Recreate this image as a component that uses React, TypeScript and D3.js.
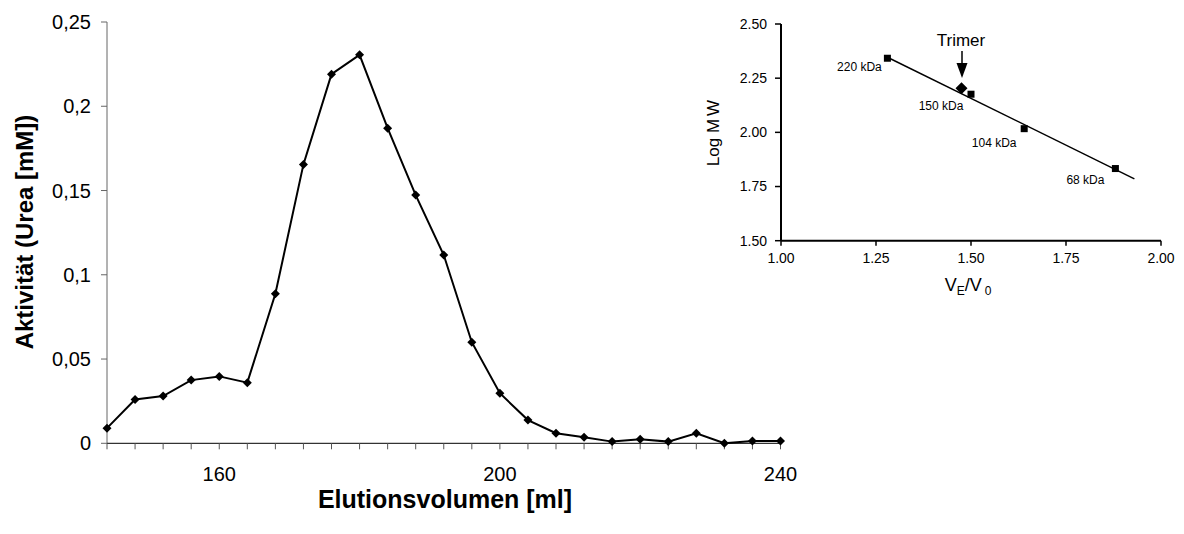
import React from "react";
import * as d3 from "d3";

// Main chart data
const volumes = [144, 148, 152, 156, 160, 164, 168, 172, 176, 180, 184, 188, 192, 196, 200, 204, 208, 212, 216, 220, 224, 228, 232, 236, 240];
const activity = [0.009, 0.026, 0.028, 0.0375, 0.0397, 0.036, 0.0887, 0.1655, 0.219, 0.2305, 0.187, 0.1473, 0.1117, 0.060, 0.0297, 0.0138, 0.006, 0.0036, 0.001, 0.0024, 0.001, 0.006, 0.0, 0.0014, 0.0014];
const mainYTicks = [0, 0.05, 0.1, 0.15, 0.2, 0.25];
const mainYTickLabels = ["0", "0,05", "0,1", "0,15", "0,2", "0,25"];
const mainXTicks = d3.range(144, 241, 4);
const mainXLabels = [160, 200, 240];

// Inset data
const standardsVeV0 = [1.28, 1.50, 1.64, 1.88];
const standardsLogMW = [2.342, 2.176, 2.017, 1.833];
const standardsNames = ["220 kDa", "150 kDa", "104 kDa", "68 kDa"];
const trimerVeV0 = [1.475];
const trimerLogMW = [2.203];
const trendRange = [1.28, 1.93];
const insetXTicks = [1.0, 1.25, 1.5, 1.75, 2.0];
const insetYTicks = [1.5, 1.75, 2.0, 2.25, 2.5];

const FONT = "'Liberation Sans', Arial, Helvetica, sans-serif";

export default function App() {
  // main scales
  const x = d3.scaleLinear().domain([144, 240]).range([107, 780.5]);
  const y = d3.scaleLinear().domain([0, 0.25]).range([443.3, 22]);
  const line = d3
    .line<number>()
    .x((_, i) => x(volumes[i]))
    .y((d) => y(d));

  // inset scales
  const ix = d3.scaleLinear().domain([1, 2]).range([781, 1161]);
  const iy = d3.scaleLinear().domain([1.5, 2.5]).range([240.7, 24]);

  // regression of standards
  const mx = d3.mean(standardsVeV0)!;
  const my = d3.mean(standardsLogMW)!;
  let sxy = 0, sxx = 0;
  standardsVeV0.forEach((v, i) => {
    sxy += (v - mx) * (standardsLogMW[i] - my);
    sxx += (v - mx) * (v - mx);
  });
  const slope = sxy / sxx;
  const icpt = my - slope * mx;

  const labelOffsets = [
    [-28, 13],
    [-30, 16],
    [-30, 18],
    [-30, 15],
  ];

  const diamond = (cx: number, cy: number, r: number) =>
    `M${cx},${cy - r}L${cx + r},${cy}L${cx},${cy + r}L${cx - r},${cy}Z`;

  return (
    <svg
      width={1184}
      height={534}
      style={{ position: "absolute", left: 0, top: 0, background: "#fff" }}
      fontFamily={FONT}
    >
      {/* Main chart axes */}
      <line x1={x(144)} x2={x(144)} y1={y(0.25)} y2={y(0)} stroke="#666" strokeWidth={1} />
      <line x1={x(144)} x2={x(240)} y1={y(0)} y2={y(0)} stroke="#000" strokeWidth={1} />
      {mainYTicks.map((t, i) => (
        <g key={"yt" + i}>
          <line x1={x(144) - 6} x2={x(144)} y1={y(t)} y2={y(t)} stroke="#666" />
          <text x={91} y={y(t)} dy="0.35em" textAnchor="end" fontSize={20} fill="#000">
            {mainYTickLabels[i]}
          </text>
        </g>
      ))}
      {mainXTicks.map((t) => (
        <line key={"xt" + t} x1={x(t)} x2={x(t)} y1={y(0)} y2={y(0) + 6} stroke="#555" />
      ))}
      {mainXLabels.map((t) => (
        <text key={"xl" + t} x={x(t)} y={481} textAnchor="middle" fontSize={20} fill="#000">
          {t}
        </text>
      ))}
      <text x={445} y={508} textAnchor="middle" fontSize={25} fontWeight="bold" fill="#000">
        Elutionsvolumen [ml]
      </text>
      <text
        transform={`translate(33,232) rotate(-90)`}
        textAnchor="middle"
        fontSize={24}
        fontWeight="bold"
        fill="#000"
      >
        Aktivität (Urea [mM])
      </text>
      <path d={line(activity) || ""} fill="none" stroke="#000" strokeWidth={2} />
      {activity.map((v, i) => (
        <path key={"m" + i} d={diamond(x(volumes[i]), y(v), 4.5)} fill="#000" />
      ))}

      {/* Inset */}
      <line x1={ix(1)} x2={ix(1)} y1={iy(2.5)} y2={iy(1.5)} stroke="#000" strokeWidth={2} />
      <line x1={ix(1)} x2={ix(2)} y1={iy(1.5)} y2={iy(1.5)} stroke="#000" strokeWidth={2} />
      {insetYTicks.map((t) => (
        <g key={"iyt" + t}>
          <line x1={ix(1) - 6} x2={ix(1)} y1={iy(t)} y2={iy(t)} stroke="#000" strokeWidth={1.5} />
          <text x={767} y={iy(t)} dy="0.35em" textAnchor="end" fontSize={14} fill="#000">
            {t.toFixed(2)}
          </text>
        </g>
      ))}
      {insetXTicks.map((t) => (
        <g key={"ixt" + t}>
          <line x1={ix(t)} x2={ix(t)} y1={iy(1.5)} y2={iy(1.5) + 5} stroke="#000" strokeWidth={1.5} />
          <text x={ix(t)} y={263} textAnchor="middle" fontSize={14} fill="#000">
            {t.toFixed(2)}
          </text>
        </g>
      ))}
      <text
        transform={`translate(719,133) rotate(-90)`}
        textAnchor="middle"
        fontSize={17}
        fill="#000"
      >
        Log M<tspan dx={3}>W</tspan>
      </text>
      <text x={968} y={291} textAnchor="middle" fontSize={18} fill="#000">
        V<tspan fontSize={12} dy={4}>E</tspan>
        <tspan dy={-4}>/V</tspan>
        <tspan fontSize={12} dy={4} dx={3}>0</tspan>
      </text>
      <line
        x1={ix(trendRange[0])}
        y1={iy(icpt + slope * trendRange[0])}
        x2={ix(trendRange[1])}
        y2={iy(icpt + slope * trendRange[1])}
        stroke="#000"
        strokeWidth={1.5}
      />
      {standardsVeV0.map((v, i) => (
        <g key={"s" + i}>
          <rect x={ix(v) - 3.5} y={iy(standardsLogMW[i]) - 3.5} width={7} height={7} fill="#000" />
          <text
            x={ix(v) + labelOffsets[i][0]}
            y={iy(standardsLogMW[i]) + labelOffsets[i][1]}
            textAnchor="middle"
            fontSize={12}
            fill="#000"
          >
            {standardsNames[i]}
          </text>
        </g>
      ))}
      {trimerVeV0.map((v, i) => (
        <path key={"tr" + i} d={diamond(ix(v), iy(trimerLogMW[i]), 6)} fill="#000" />
      ))}
      <text x={961} y={46} textAnchor="middle" fontSize={17} fill="#000">
        Trimer
      </text>
      <line x1={962} x2={962} y1={51} y2={66} stroke="#000" strokeWidth={1.5} />
      <path d="M956.5,63 L967.5,63 L962,78 Z" fill="#000" />
    </svg>
  );
}
